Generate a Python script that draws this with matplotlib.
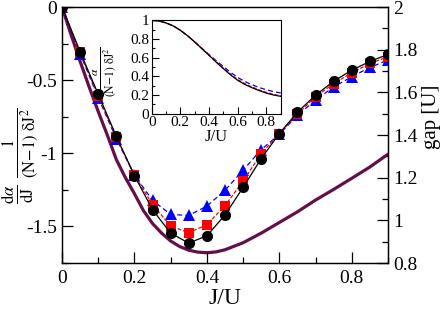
import matplotlib
matplotlib.use("Agg")
import matplotlib.pyplot as plt
from matplotlib.ticker import MultipleLocator, FuncFormatter

plt.rcParams['font.family'] = ['Liberation Serif', 'DejaVu Serif']
plt.rcParams['mathtext.fontset'] = 'stix'
plt.rcParams['axes.unicode_minus'] = False

# ---- data ----
J = [0.0, 0.05, 0.1, 0.15, 0.2, 0.25, 0.3, 0.35, 0.4, 0.45,
     0.5, 0.55, 0.6, 0.65, 0.7, 0.75, 0.8, 0.85, 0.9]
black = [0, -0.306, -0.596, -0.884, -1.153, -1.386, -1.546, -1.614, -1.564, -1.422,
         -1.233, -1.036, -0.865, -0.719, -0.603, -0.507, -0.432, -0.372, -0.324]
red = [0, -0.31, -0.61, -0.89, -1.15, -1.351, -1.497, -1.543, -1.488, -1.358,
       -1.19, -1.002, -0.865, -0.733, -0.614, -0.523, -0.45, -0.386, -0.34]
blue = [0, -0.32, -0.62, -0.90, -1.15, -1.322, -1.418, -1.425, -1.361, -1.253,
        -1.116, -0.975, -0.87, -0.74, -0.637, -0.546, -0.477, -0.413, -0.363]

J_gap = [0.0, 0.025, 0.05, 0.075, 0.1, 0.125, 0.15, 0.175, 0.2, 0.225, 0.25, 0.275,
         0.3, 0.325, 0.35, 0.375, 0.4, 0.425, 0.45, 0.5, 0.55, 0.6, 0.65, 0.7,
         0.75, 0.8, 0.85, 0.9]
gap = [2.0, 1.87, 1.745, 1.625, 1.51, 1.40, 1.285, 1.20, 1.125, 1.045, 0.985, 0.94,
       0.903, 0.877, 0.86, 0.851, 0.848, 0.852, 0.862, 0.895, 0.94, 0.99, 1.04, 1.095,
       1.145, 1.197, 1.25, 1.31]

alpha_black = [1.0, 0.993, 0.972, 0.94, 0.893, 0.835, 0.768, 0.697, 0.625, 0.552,
               0.482, 0.416, 0.357, 0.313, 0.278, 0.247, 0.22, 0.2, 0.186]
alpha_red = [1.0, 0.993, 0.972, 0.94, 0.893, 0.835, 0.768, 0.697, 0.627, 0.556,
             0.488, 0.424, 0.366, 0.322, 0.286, 0.255, 0.228, 0.207, 0.192]
alpha_blue = [1.0, 0.993, 0.972, 0.94, 0.893, 0.835, 0.769, 0.700, 0.632, 0.568,
              0.505, 0.443, 0.388, 0.345, 0.31, 0.28, 0.256, 0.237, 0.222]

purple = '#650f48'

fig = plt.figure(figsize=(4.43, 3.09), dpi=100)
ax = fig.add_axes([62/443, 1-263/309, (388-62)/443, (263-7)/309])
ax2 = ax.twinx()
ax.set_zorder(ax2.get_zorder() + 1)
ax.patch.set_visible(False)

ax2.plot(J_gap, gap, color=purple, lw=2.3, solid_capstyle='round')

ax.plot(J, blue, color='blue', ls=(0, (4, 2.5)), lw=0.9, marker='^', ms=8,
        markeredgewidth=0)
ax.plot(J, red, color='red', ls=(0, (3, 1.5)), lw=0.9, marker='s', ms=6.5,
        markeredgewidth=0)
ax.plot(J, black, color='black', ls='-', lw=0.9, marker='o', ms=8,
        markeredgewidth=0)

ax.set_xlim(0, 0.9)
ax.set_ylim(-1.75, 0)
ax2.set_ylim(0.8, 2.0)

fmt = FuncFormatter(lambda v, p: ('%g' % round(v, 3)))
ax.xaxis.set_major_locator(MultipleLocator(0.2))
ax.xaxis.set_minor_locator(MultipleLocator(0.1))
ax.yaxis.set_major_locator(MultipleLocator(0.5))
ax.yaxis.set_minor_locator(MultipleLocator(0.25))
ax2.yaxis.set_major_locator(MultipleLocator(0.2))
ax2.yaxis.set_minor_locator(MultipleLocator(0.1))
ax.xaxis.set_major_formatter(fmt)
ax.yaxis.set_major_formatter(fmt)
ax2.yaxis.set_major_formatter(fmt)

for a in (ax, ax2):
    a.tick_params(which='major', direction='in', length=8, width=0.9, labelsize=14)
    a.tick_params(which='minor', direction='in', length=4, width=0.9)
    for s in a.spines.values():
        s.set_linewidth(0.9)
ax.tick_params(which='both', top=False, right=False)
ax2.tick_params(which='both', left=False, right=True)
ax.tick_params(axis='x', pad=5)

ax.set_xlabel('J/U', fontsize=17, labelpad=0.5)
ax.set_ylabel(r'$\frac{\mathrm{d}\alpha}{\mathrm{dJ}}\ \frac{1}{\mathrm{(N\!-\!1)\ \delta J^2}}$',
              fontsize=17)
ax.yaxis.set_label_coords(-0.065, 0.42)
ax2.set_ylabel('gap [U]', fontsize=15)
ax2.yaxis.set_label_coords(1.105, 0.57)

# ---- inset ----
axi = fig.add_axes([151.7/443, 1-113.7/309, (280.7-151.7)/443, (113.7-20.3)/309])
axi.set_zorder(ax.get_zorder() + 1)
axi.plot(J, alpha_blue, color='blue', ls=(0, (4, 2.5)), lw=0.9)
axi.plot(J, alpha_red, color='red', ls=(0, (3, 1.5)), lw=0.9)
axi.plot(J, alpha_black, color='black', lw=0.9)
axi.set_xlim(0, 0.9)
axi.set_ylim(0, 1)
axi.xaxis.set_major_locator(MultipleLocator(0.2))
axi.xaxis.set_minor_locator(MultipleLocator(0.1))
axi.yaxis.set_major_locator(MultipleLocator(0.2))
axi.yaxis.set_minor_locator(MultipleLocator(0.1))
axi.xaxis.set_major_formatter(fmt)
axi.yaxis.set_major_formatter(fmt)
axi.tick_params(which='major', direction='in', length=5, width=0.8, labelsize=11, pad=2)
axi.tick_params(which='minor', direction='in', length=2.5, width=0.8)
for s in axi.spines.values():
    s.set_linewidth(0.8)
axi.set_xlabel('J/U', fontsize=12, labelpad=0)
axi.set_ylabel(r'$\frac{\alpha}{\mathrm{(N\!-\!1)\ \delta J^2}}$', fontsize=12)
axi.yaxis.set_label_coords(-0.26, 0.45)

fig.savefig('out.png', dpi=100)
